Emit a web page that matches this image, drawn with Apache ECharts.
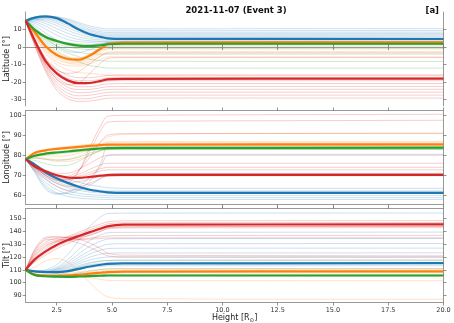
<!DOCTYPE html>
<html>
<head>
<meta charset="utf-8">
<script src="https://cdn.jsdelivr.net/npm/echarts@6/dist/echarts.min.js"></script>
<style>
  html, body { margin: 0; padding: 0; background: #fff; }
  #chart { width: 454px; height: 323px; }
</style>
</head>
<body>
<div id="chart"></div>
<script>
// heights [R_sun] where every curve is sampled
const heights = [1.1, 1.5, 2, 2.5, 3, 3.5, 4, 4.5, 4.8, 5.5, 20];
const xTicks = [2.5, 5, 7.5, 10, 12.5, 15, 17.5, 20];

// ---- latitude ----
const latTicks = [-30, -20, -10, 0, 10];
const latBlueMain = [15, 16.8, 17.5, 16.5, 13.5, 10, 7.3, 5.8, 5.0, 4.7, 4.6];
const latOrangeMain = [15, 8.7, 0.5, -4.5, -6.8, -7.2, -4.8, -0.8, 1.6, 2.6, 2.7];
const latGreenMain = [15, 10, 5.7, 3.5, 1.8, 0.8, 0.5, 1.0, 1.6, 1.9, 1.9];
const latRedMain = [15, 4, -8, -15, -19, -20.6, -20.5, -19.3, -18.4, -18.1, -18];
const latBlueThin = [
  [15, 16.8, 17.6, 17.3, 16, 14, 12, 10.8, 10.3, 10.4, 10.5],
  [15, 16.7, 17.4, 17, 15.5, 13.2, 11, 9.7, 9.2, 9.3, 9.4],
  [15, 16.6, 17.2, 16.5, 14.8, 12.3, 10, 8.7, 8.3, 8.4, 8.5],
  [15, 16.5, 17, 16, 14, 11.4, 9.2, 7.9, 7.5, 7.6, 7.7],
  [15, 16.3, 16.6, 15.4, 13.2, 10.6, 8.4, 7.2, 6.8, 6.9, 7],
  [15, 16.1, 16.1, 14.6, 12.2, 9.6, 7.6, 6.5, 6.2, 6.3, 6.3],
  [15, 15.8, 15.5, 13.6, 11, 8.5, 6.7, 5.8, 5.5, 5.6, 5.6],
  [15, 15.5, 14.6, 12.3, 9.5, 7.2, 5.7, 5, 4.8, 4.9, 5],
  [15, 15, 13.4, 10.6, 7.8, 5.8, 4.6, 4.1, 4, 4.1, 4.2],
  [15, 14.4, 12, 8.8, 6, 4.3, 3.6, 3.3, 3.3, 3.4, 3.5],
  [15, 13.6, 10.3, 6.8, 4.3, 3, 2.8, 2.9, 3, 3, 3],
  [15, 12.5, 8, 4, 1.5, 0.8, 1.2, 2, 2.6, 2.7, 2.7],
  [15, 11.5, 5.5, 0.5, -2.5, -3, -1.5, 1, 2.4, 2.5, 2.5]
];
const latOrangeThin = [
  [15, 9, 1.5, -3, -5.8, -6.2, -4, -0.2, 2.4, 3.2, 3.3],
  [15, 8.8, 1.2, -3.6, -6.3, -6.8, -4.6, -0.8, 2, 2.8, 2.9],
  [15, 8.5, 0.6, -4.3, -7, -7.5, -5.4, -1.6, 1.2, 2, 2.1],
  [15, 8.2, 0, -5, -7.6, -8.2, -6.2, -2.5, 0.3, 1.2, 1.3],
  [15, 7.8, -0.8, -6, -8.5, -9, -7.2, -3.6, -0.9, -0.6, -0.6],
  [15, 7.5, -1.5, -7, -9.2, -9.8, -8.3, -5, -2.8, -2.6, -2.6],
  [15, 7, -2.5, -8.5, -10.5, -10.8, -9.5, -7, -5.6, -5.6, -5.6],
  [15, 6.5, -3.5, -10, -13, -14.5, -15, -15.6, -16, -16, -16]
];
const latGreenThin = [
  [15, 10.5, 6.5, 4, 2.5, 1.8, 1.6, 1.8, 2.2, 2.3, 2.3],
  [15, 10.2, 6.2, 3.8, 2.2, 1.3, 1.0, 1.2, 1.5, 1.5, 1.5],
  [15, 9.8, 5.5, 2.8, 1, 0, -0.3, 0, 0.5, 0.6, 0.6],
  [15, 9.5, 5, 2, 0, -1, -1.5, -1.3, -1, -1, -1],
  [15, 9.2, 4.3, 0.8, -1.5, -3, -3.8, -4, -4, -4, -4],
  [15, 9, 3.5, -0.5, -3.5, -5.5, -7, -7.8, -8, -8.1, -8.2],
  [15, 8.5, 2.5, -2, -5.5, -8.5, -10.5, -11.5, -12, -12, -12]
];
const latRedThin = [
  [15, 5, -6, -12.5, -16, -17.5, -17.5, -16.8, -16.2, -16, -16],
  [15, 4.5, -7, -14, -17.8, -19.2, -19.2, -18.3, -17.5, -17.2, -17.2],
  [15, 4, -8, -15.5, -19.5, -21, -21, -20, -19.4, -19.2, -19.2],
  [15, 3.5, -9, -17, -21.2, -22.6, -22.6, -21.6, -21, -20.8, -20.8],
  [15, 3, -10, -18.5, -23, -24.3, -24.2, -23.2, -22.6, -22.5, -22.5],
  [15, 2.5, -11, -20, -24.6, -26, -25.8, -24.8, -24.2, -24.1, -24.1],
  [15, 2, -12, -21.5, -26.3, -27.8, -27.5, -26.4, -25.8, -25.7, -25.7],
  [15, 1.5, -13, -23, -28, -29.5, -29.3, -28, -27.5, -27.4, -27.4],
  [15, 1, -14, -24.5, -29.5, -31, -30.8, -29.8, -29.2, -29.1, -29.1],
  [15, 3, -10, -18, -21.5, -20.5, -15, -9, -6.5, -6, -6],
  [15, 4, -7, -13, -15, -14, -9.5, -5, -3.5, -3.3, -3.3]
];

// ---- longitude ----
const lonTicks = [60, 70, 80, 90, 100];
const lonBlueMain = [78, 75.5, 71.5, 68.5, 66.2, 64.3, 62.8, 61.9, 61.5, 61.2, 61.2];
const lonOrangeMain = [78, 81.2, 82.5, 83.2, 83.7, 84.2, 84.7, 85.1, 85.3, 85.4, 85.5];
const lonGreenMain = [78, 79.8, 80.8, 81.4, 81.9, 82.5, 83, 83.4, 83.6, 83.7, 83.8];
const lonRedMain = [78, 74.5, 72, 70, 68.9, 68.7, 69.2, 69.8, 70.1, 70.2, 70.2];
const lonBlueThin = [
  [78, 75.8, 72.5, 70, 68, 66.5, 65.2, 64.3, 63.8, 63.5, 63.5],
  [78, 75.2, 71, 67.8, 65.6, 64, 63, 62.5, 62.2, 62.2, 62.2],
  [78, 74.8, 70, 66.8, 64.8, 63.3, 62.3, 61.8, 61.6, 61.6, 61.6],
  [78, 74.5, 69.5, 66, 63.8, 62.5, 61.6, 61.2, 61, 60.9, 60.9],
  [78, 74, 68.2, 64.5, 62.3, 61, 60.3, 60, 59.8, 59.8, 59.8],
  [78, 73.2, 66.5, 62.8, 60.8, 59.8, 59.3, 59, 58.8, 58.8, 58.8],
  [78, 72.5, 65, 61.2, 59.5, 58.6, 58.2, 58, 57.9, 57.9, 57.9],
  [78, 72, 64, 61, 61, 62.5, 65, 68.5, 70.5, 71, 71],
  [78, 71.5, 63, 60.5, 61.5, 64.5, 69, 74.5, 80, 80.5, 80.5]
];
const lonOrangeThin = [
  [78, 81.5, 83, 83.8, 84.4, 85, 85.5, 85.9, 86.1, 86.2, 86.3],
  [78, 80.8, 82, 82.6, 83.2, 83.7, 84.2, 84.6, 84.8, 84.9, 85],
  [78, 79.5, 79.8, 79.5, 79.8, 81, 83, 85.3, 86.6, 86.8, 86.9],
  [78, 79, 78.5, 77.8, 78, 79.5, 82.5, 86.5, 89, 90.5, 91],
  [78, 78.8, 78, 77, 77, 78, 80, 82.5, 83.3, 83.4, 83.4]
];
const lonGreenThin = [
  [78, 80, 81.2, 81.8, 82.4, 83, 83.5, 83.9, 84.1, 84.2, 84.2],
  [78, 79.5, 80.2, 80.6, 81.2, 81.8, 82.4, 82.9, 83.1, 83.2, 83.2],
  [78, 78.5, 78, 77.5, 77.8, 79, 81, 82.5, 83, 83.1, 83.1],
  [78, 77.5, 75.8, 74.8, 75, 77, 80, 82.3, 82.8, 82.9, 82.9]
];
const lonRedThin = [
  [78, 74, 70, 67.5, 66.5, 72, 84, 95, 99.5, 100, 100.5],
  [78, 74.5, 71, 68.5, 67.5, 72, 82, 92.5, 96.5, 97, 97.5],
  [78, 75, 72, 70, 69.5, 72.5, 79, 87, 90, 90.8, 91],
  [78, 75, 72.5, 71, 71, 73, 76, 79, 80, 80, 80],
  [78, 74.2, 71.3, 69.5, 69, 70.5, 73, 75.3, 76, 76, 76],
  [78, 74, 71, 69, 68.3, 69.5, 71.5, 73.3, 74, 74, 74],
  [78, 73.8, 70.6, 68.5, 67.8, 68.8, 70.5, 72.2, 72.7, 72.7, 72.7],
  [78, 73.5, 70, 67.5, 66.5, 66.8, 68, 69.8, 70.6, 70.8, 70.8],
  [78, 73, 69, 66, 64.5, 64.5, 66, 68.5, 69.6, 69.8, 69.8],
  [78, 72.5, 68, 64.5, 62.5, 63, 67, 76, 84.5, 85, 85.2]
];

// ---- tilt ----
const tiltTicks = [90, 100, 110, 120, 130, 140, 150];
const tiltBlueMain = [110, 108.8, 108.2, 108.2, 109, 110.8, 112.6, 114, 114.7, 115, 115.2];
const tiltOrangeMain = [110, 106.3, 105.4, 105.2, 105.5, 106.2, 107, 107.8, 108.3, 108.7, 108.9];
const tiltGreenMain = [110, 106, 105, 104.7, 104.6, 104.8, 105.1, 105.4, 105.6, 105.6, 105.6];
const tiltRedMain = [110, 118, 124.5, 129.5, 133.3, 136.5, 139.5, 142.3, 144, 145.3, 145.5];
const tiltBlueThin = [
  [110, 109, 110, 114, 122, 133, 144, 151.5, 154, 154.3, 154.4],
  [110, 109, 109.5, 112, 118, 126, 133, 137.5, 139, 139.3, 139.5],
  [110, 109, 109, 111, 116, 122.5, 128.5, 132.5, 134, 134.4, 134.6],
  [110, 108.8, 108.8, 110.5, 114.5, 120, 125, 128.5, 130, 130.4, 130.6],
  [110, 108.8, 108.6, 110, 113.3, 118, 122.5, 125.5, 126.6, 126.9, 127],
  [110, 108.7, 108.4, 109.5, 112.4, 116.3, 120, 122.3, 123, 123.2, 123.3],
  [110, 108.7, 108.3, 109, 111.5, 114.8, 117.8, 119.5, 120, 120.1, 120.2],
  [110, 108.6, 108.2, 108.5, 110.5, 113.3, 115.8, 117, 117.4, 117.5, 117.6],
  [110, 108.5, 108, 108, 109.6, 112, 114, 115, 115.4, 115.5, 115.5],
  [110, 108.5, 108, 107.8, 108.8, 110.5, 112, 112.8, 113.1, 113.2, 113.2]
];
const tiltOrangeThin = [
  [110, 112, 117, 119, 116, 109, 100, 92, 89, 87.5, 87],
  [110, 107, 106.5, 107, 106.5, 105.5, 104, 102.5, 101.8, 101.6, 101.5],
  [110, 106.5, 105.8, 105.8, 106.3, 107.2, 108.2, 109, 109.5, 109.8, 110],
  [110, 106, 105, 104.9, 105.2, 105.8, 106.6, 107.2, 107.6, 107.8, 107.9],
  [110, 106.6, 106, 106.2, 107, 108.3, 109.5, 110.3, 110.7, 110.8, 110.9]
];
const tiltGreenThin = [
  [110, 106.5, 106, 107, 109.5, 112.5, 115, 116.7, 117.3, 117.5, 117.6],
  [110, 106.3, 105.6, 106, 107.8, 110.2, 112.5, 114, 114.7, 115, 115],
  [110, 106, 105.2, 105.2, 106, 107.5, 109, 110.2, 110.8, 111, 111],
  [110, 105.8, 104.6, 104.2, 104.2, 104.5, 104.9, 105.2, 105.3, 105.3, 105.3],
  [110, 106, 105, 104.8, 104.9, 105.2, 105.7, 106.2, 106.5, 106.6, 106.6]
];
const tiltRedThin = [
  [110, 120, 128, 132.5, 136, 139.5, 142.8, 145.8, 147.5, 148.3, 148.5],
  [110, 119, 126.5, 131.5, 135, 138.2, 141.3, 144.2, 146, 146.8, 147],
  [110, 117, 123, 128, 132, 135.5, 138.5, 141.5, 143, 143.7, 144],
  [110, 116, 121.5, 126.5, 130.5, 134, 137.3, 140.3, 142, 142.7, 143],
  [110, 123, 132, 134.5, 135.5, 137, 139.5, 142.5, 144.5, 145.5, 146],
  [110, 125, 134.5, 135.5, 135, 134, 131, 126.5, 123, 121.5, 121],
  [110, 124, 133.5, 134, 133, 131, 127.5, 123.5, 121, 120, 119.8],
  [110, 122, 130.5, 133, 133.5, 134, 134.8, 135.8, 136.5, 136.8, 137],
  [110, 121, 129, 132, 133, 133.5, 134, 134.5, 135, 135, 135],
  [110, 126, 135.5, 136, 135.5, 135.5, 137, 140, 142.5, 143.5, 144]
];

const BLUE = '#1f77b4', ORANGE = '#ff7f0e', GREEN = '#2ca02c', RED = '#d62728';
const FONT = 'DejaVu Sans';

const panels = [
  { name: 'Latitude [°]', min: -33.5, max: 20, ticks: latTicks, top: 12,
    groups: [[BLUE, latBlueMain, latBlueThin], [ORANGE, latOrangeMain, latOrangeThin],
             [GREEN, latGreenMain, latGreenThin], [RED, latRedMain, latRedThin]] },
  { name: 'Longitude [°]', min: 55.5, max: 102.4, ticks: lonTicks, top: 110.5,
    groups: [[BLUE, lonBlueMain, lonBlueThin], [ORANGE, lonOrangeMain, lonOrangeThin],
             [GREEN, lonGreenMain, lonGreenThin], [RED, lonRedMain, lonRedThin]] },
  { name: 'Tilt [°]', min: 84.5, max: 157.8, ticks: tiltTicks, top: 208.7,
    groups: [[BLUE, tiltBlueMain, tiltBlueThin], [ORANGE, tiltOrangeMain, tiltOrangeThin],
             [GREEN, tiltGreenMain, tiltGreenThin], [RED, tiltRedMain, tiltRedThin]] }
];
const PANEL_H = 93.8;

function pts(ys) {
  return ys.map((y, i) => [heights[i], y]);
}

let grids = [], xAxes = [], yAxes = [], series = [], names = [];
const axisLine = { show: true, lineStyle: { color: '#999', width: 1 } };
const tick = (vals) => ({ show: true, length: 3, customValues: vals, lineStyle: { color: '#777', width: 0.8 } });

panels.forEach((p, i) => {
  grids.push({ left: 25.7, right: 10.5, top: p.top, height: PANEL_H, containLabel: false, outerBoundsMode: 'none' });
  // bottom + top x axes
  xAxes.push({
    gridIndex: i, type: 'value', min: 1.1, max: 20, position: 'bottom',
    axisLine: axisLine, axisTick: tick(xTicks), splitLine: { show: false },
    axisLabel: { show: i === 2, customValues: xTicks, fontSize: 6.5, color: '#333', fontFamily: FONT, margin: 4,
                 formatter: v => v.toFixed(1) },
    name: i === 2 ? 'Height [R{s|⊙}]' : '', nameLocation: 'middle', nameGap: 10,
    nameTextStyle: { fontSize: 8, color: '#222', fontFamily: FONT,
                     rich: { s: { fontSize: 5.5, padding: [5, 0, 0, 0], fontFamily: FONT, color: '#222' } } }
  });
  xAxes.push({
    gridIndex: i, type: 'value', min: 1.1, max: 20, position: 'top',
    axisLine: axisLine, axisTick: tick(xTicks), axisLabel: { show: false }, splitLine: { show: false }
  });
  yAxes.push({
    gridIndex: i, type: 'value', min: p.min, max: p.max, position: 'left',
    axisLine: axisLine, axisTick: tick(p.ticks), splitLine: { show: false },
    axisLabel: { customValues: p.ticks, fontSize: 6.5, color: '#333', fontFamily: FONT, margin: 4 }
  });
  yAxes.push({
    gridIndex: i, type: 'value', min: p.min, max: p.max, position: 'right',
    axisLine: axisLine, axisTick: tick(p.ticks), axisLabel: { show: false }, splitLine: { show: false }
  });
  // y-axis title, rotated, left of the tick labels
  names.push({
    type: 'text', x: 7, y: p.top + PANEL_H / 2, rotation: Math.PI / 2, silent: true,
    style: { text: p.name, fontSize: 8, fontFamily: FONT, fill: '#222', align: 'center', verticalAlign: 'middle' }
  });

  // thin ensemble members first, then the thick best-fit lines on top
  p.groups.forEach(g => {
    g[2].forEach(ys => {
      series.push({
        type: 'line', xAxisIndex: 2 * i, yAxisIndex: 2 * i, data: pts(ys),
        showSymbol: false, smooth: 0.3, silent: true,
        lineStyle: { color: g[0], width: 0.7, opacity: 0.33 }
      });
    });
  });
  p.groups.forEach(g => {
    series.push({
      type: 'line', xAxisIndex: 2 * i, yAxisIndex: 2 * i, data: pts(g[1]),
      showSymbol: false, smooth: 0.3, silent: true,
      lineStyle: { color: g[0], width: 2.2 }
    });
  });
});

const chart = echarts.init(document.getElementById('chart'), null, { renderer: 'canvas' });
chart.setOption({
  animation: false,
  backgroundColor: '#fff',
  title: [
    { text: '2021-11-07 (Event 3)', left: 231, top: 1, textAlign: 'center',
      textStyle: { fontSize: 8.5, fontWeight: 'bold', color: '#111', fontFamily: FONT } },
    { text: '[a]', right: 10, top: 1,
      textStyle: { fontSize: 8.5, fontWeight: 'bold', color: '#111', fontFamily: FONT } }
  ],
  graphic: names,
  grid: grids,
  xAxis: xAxes,
  yAxis: yAxes,
  series: series
});
</script>
</body>
</html>
